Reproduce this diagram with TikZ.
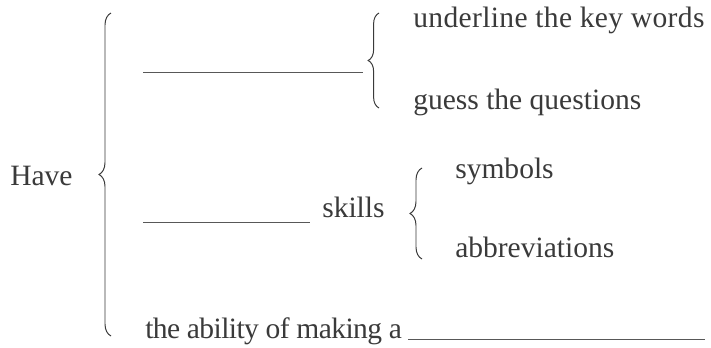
\documentclass[tikz,border=0pt]{standalone}
\usepackage{fontspec}
\setmainfont{Liberation Serif}
\usetikzlibrary{
  decorations.pathreplacing,
}
\definecolor{ink}{HTML}{3A3A3A}
\tikzset{
  word/.style={anchor=base west, inner sep=0pt, text=ink,
    font=\fontsize{21}{25}\selectfont},
  curly/.style={decorate, decoration={brace, amplitude=#1},
    line width=0.7pt, draw=ink},
  blank/.style={line width=0.6pt, draw=ink!85},
}

\begin{document}
\begin{tikzpicture}
\useasboundingbox (0,0) rectangle (17.775,8.675);

% the left column
\node[word] (have) at (0.25,4.05) {Have};
\coordinate (bigbot) at (2.775,0.275);
\coordinate (bigtop) at (2.775,8.35);

% first row: a blank and two ways
\coordinate (blankA) at (3.575,6.875);
\coordinate (blankAend) at (9.075,6.875);
\coordinate (braceAbot) at (9.475,5.975);
\coordinate (braceAtop) at (9.475,8.35);
\node[word] (keywords) at (10.325,8.0)
  {\addfontfeature{LetterSpace=1.2}underline the key words};
\node[word] (guess) at (10.325,5.95) {guess the questions};

% second row: a blank, skills and two kinds
\coordinate (blankB) at (3.575,3.125);
\coordinate (blankBend) at (7.75,3.125);
\node[word] (skills) at (8.05,3.25) {skills};
\coordinate (braceBbot) at (10.55,2.2);
\coordinate (braceBtop) at (10.55,4.475);
\node[word] (symbols) at (11.375,4.225) {symbols};
\node[word] (abbrev) at (11.375,2.25) {abbreviations};

% last row
\node[word] (ability) at (3.625,0.225)
  {\addfontfeature{LetterSpace=-2}the ability of making a};
\coordinate (blankC) at (10.2,0.2);
\coordinate (blankCend) at (17.625,0.2);

\draw[curly=0.3cm] (bigbot) -- (bigtop);
\draw[curly=0.27cm] (braceAbot) -- (braceAtop);
\draw[curly=0.3cm] (braceBbot) -- (braceBtop);

\draw[blank] (blankA) -- (blankAend);
\draw[blank] (blankB) -- (blankBend);
\draw[blank] (blankC) -- (blankCend);
\end{tikzpicture}
\end{document}
